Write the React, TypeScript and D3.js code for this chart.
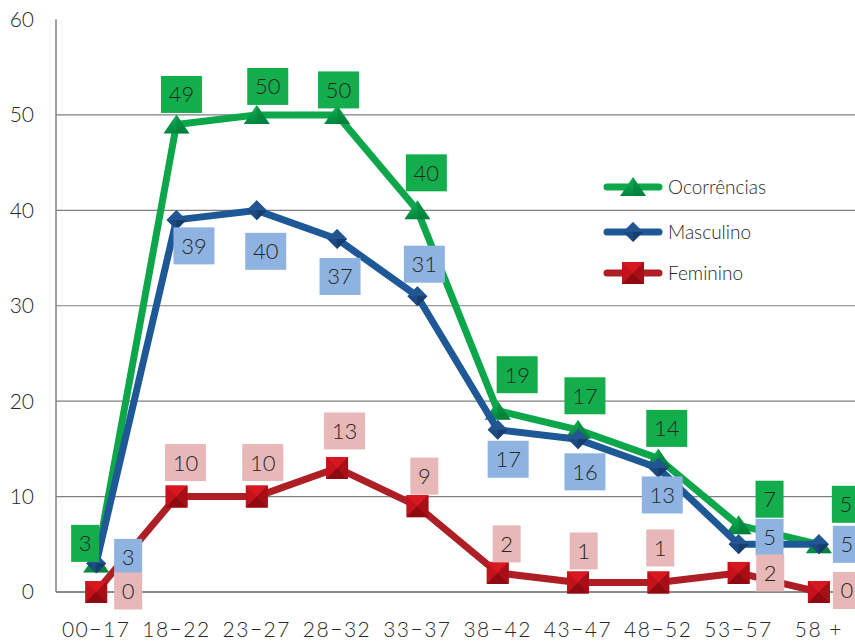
import React from "react";
import * as d3 from "d3";

const categories = ["00−17", "18−22", "23−27", "28−32", "33−37", "38−42", "43−47", "48−52", "53−57", "58 +"];
const ocorrencias = [3, 49, 50, 50, 40, 19, 17, 14, 7, 5];
const masculino = [3, 39, 40, 37, 31, 17, 16, 13, 5, 5];
const feminino = [0, 10, 10, 13, 9, 2, 1, 1, 2, 0];
const yTicks = [0, 10, 20, 30, 40, 50, 60];
const seriesNames = ["Ocorrências", "Masculino", "Feminino"];

// label placement offsets (pixels, relative to point)
const greenLabelDx = [-11, 5, 11, 1.5, 9, 19.5, 7, 8.5, 31, 27];
const greenLabelDy = [-20, -30, -28.5, -25, -37.5, -36, -34, -30, -26, -40];
const blueLabelDx = [32, 17.5, 9, 3, 7, 10.5, 7, 4, 31, 28];
const blueLabelDy = [-6, 26, 41, 37.5, -32, 29.5, 32.5, 27, -7, 0];
const redLabelDx = [32, 9, 6, 7.5, 7, 9, 5.7, 2, 31.7, 28];
const redLabelDy = [-1, -34, -34, -37, -30, -29, -31.5, -34.5, 0, -1.5];

const W = 855;
const H = 644;
const FONT = "Lato, 'Open Sans', sans-serif";

export default function App() {
  const x = d3.scaleBand<string>().domain(categories).range([56, 859]).padding(0);
  const cx = (i: number) => (x(categories[i]) as number) + x.bandwidth() / 2;
  const y = d3.scaleLinear().domain([0, 60]).range([592, 19.5]);

  const line = d3
    .line<number>()
    .x((_, i) => cx(i))
    .y((d) => y(d));

  const series = [
    { name: seriesNames[0], data: ocorrencias, line: "#0DA64A", box: "#14AD4C", shape: "tri", dx: greenLabelDx, dy: greenLabelDy },
    { name: seriesNames[1], data: masculino, line: "#1F5896", box: "#8EB3E0", shape: "dia", dx: blueLabelDx, dy: blueLabelDy },
    { name: seriesNames[2], data: feminino, line: "#AD1F24", box: "#E7B8B7", shape: "sq", dx: redLabelDx, dy: redLabelDy },
  ];

  const marker = (shape: string, px: number, py: number, key: string) => {
    if (shape === "tri") {
      return (
        <g key={key} transform={`translate(${px},${py})`}>
          <path d="M0,-10 L13,9 L-13,9 Z" fill="url(#gTri)" />
          <path d="M0,-10 L0,9 L13,9 Z" fill="#006F33" opacity={0.35} />
        </g>
      );
    }
    if (shape === "dia") {
      return (
        <g key={key} transform={`translate(${px},${py})`}>
          <path d="M0,-10 L10,0 L0,10 L-10,0 Z" fill="#1C4A82" />
          <path d="M0,-10 L10,0 L-10,0 Z" fill="#2A5E9E" opacity={0.6} />
          <path d="M0,10 L10,0 L0,0 Z" fill="#0E2F5A" opacity={0.5} />
        </g>
      );
    }
    return (
      <g key={key} transform={`translate(${px},${py})`}>
        <rect x={-11} y={-11} width={22} height={22} fill="#C3121B" />
        <path d="M-11,-11 L11,-11 L0,0 Z" fill="#D81820" />
        <path d="M-11,11 L11,11 L0,0 Z" fill="#8E0A10" />
        <path d="M11,-11 L11,11 L0,0 Z" fill="#A80E15" />
      </g>
    );
  };

  return (
    <svg
      width={W}
      height={H}
      style={{ position: "absolute", left: 0, top: 0, background: "#fff" }}
      fontFamily={FONT}
      fontWeight={300}
    >
      <defs>
        <linearGradient id="gTri" x1="0" y1="0" x2="0" y2="1">
          <stop offset="0" stopColor="#13B052" />
          <stop offset="1" stopColor="#00873E" />
        </linearGradient>
      </defs>

      {/* gridlines */}
      {yTicks.filter((t) => t > 0 && t < 60).map((t) => (
        <line key={`g${t}`} x1={56} x2={W} y1={y(t)} y2={y(t)} stroke="#7F7F7F" strokeWidth={1.2} />
      ))}
      <line x1={56} x2={W} y1={y(0)} y2={y(0)} stroke="#1a1a1a" strokeWidth={1.2} />
      <line x1={56} x2={56} y1={y(60)} y2={y(0)} stroke="#7F7F7F" strokeWidth={1.5} />

      {/* y tick labels */}
      {yTicks.map((t) => (
        <text key={`yt${t}`} x={34} y={y(t)} dy="0.35em" textAnchor="end" fontSize={21} fill="#262626">
          {t}
        </text>
      ))}

      {/* x tick labels */}
      {categories.map((c, i) => (
        <text key={`xt${i}`} x={cx(i)} y={630} dy="0.35em" textAnchor="middle" fontSize={21} letterSpacing={1.5} fill="#262626">
          {c}
        </text>
      ))}

      {/* series */}
      {series.map((s, si) => (
        <g key={`s${si}`}>
          <path d={line(s.data) as string} fill="none" stroke={s.line} strokeWidth={7} strokeLinejoin="round" />
          {s.data.map((v, i) => marker(s.shape, cx(i), y(v), `m${si}-${i}`))}
        </g>
      ))}

      {/* data labels */}
      {series.map((s, si) => (
        <g key={`l${si}`}>
          {s.data.map((v, i) => {
            const lx = cx(i) + s.dx[i];
            const ly = y(v) + s.dy[i];
            const w = String(v).length * 13 + 15;
            const h = 37;
            return (
              <g key={`lb${si}-${i}`}>
                <rect x={lx - w / 2} y={ly - h / 2} width={w} height={h} fill={s.box} />
                <text x={lx} y={ly} dy="0.36em" textAnchor="middle" fontSize={22} fill="#262626">
                  {v}
                </text>
              </g>
            );
          })}
        </g>
      ))}

      {/* legend */}
      {series.map((s, si) => {
        const ly = [187, 232, 273][si];
        return (
          <g key={`lg${si}`}>
            <line x1={607} x2={659} y1={ly} y2={ly} stroke={s.line} strokeWidth={7} strokeLinecap="round" />
            {marker(s.shape, 633, ly, `lm${si}`)}
            <text x={668} y={ly} dy="0.35em" fontSize={19} fill="#262626">
              {s.name}
            </text>
          </g>
        );
      })}
    </svg>
  );
}
